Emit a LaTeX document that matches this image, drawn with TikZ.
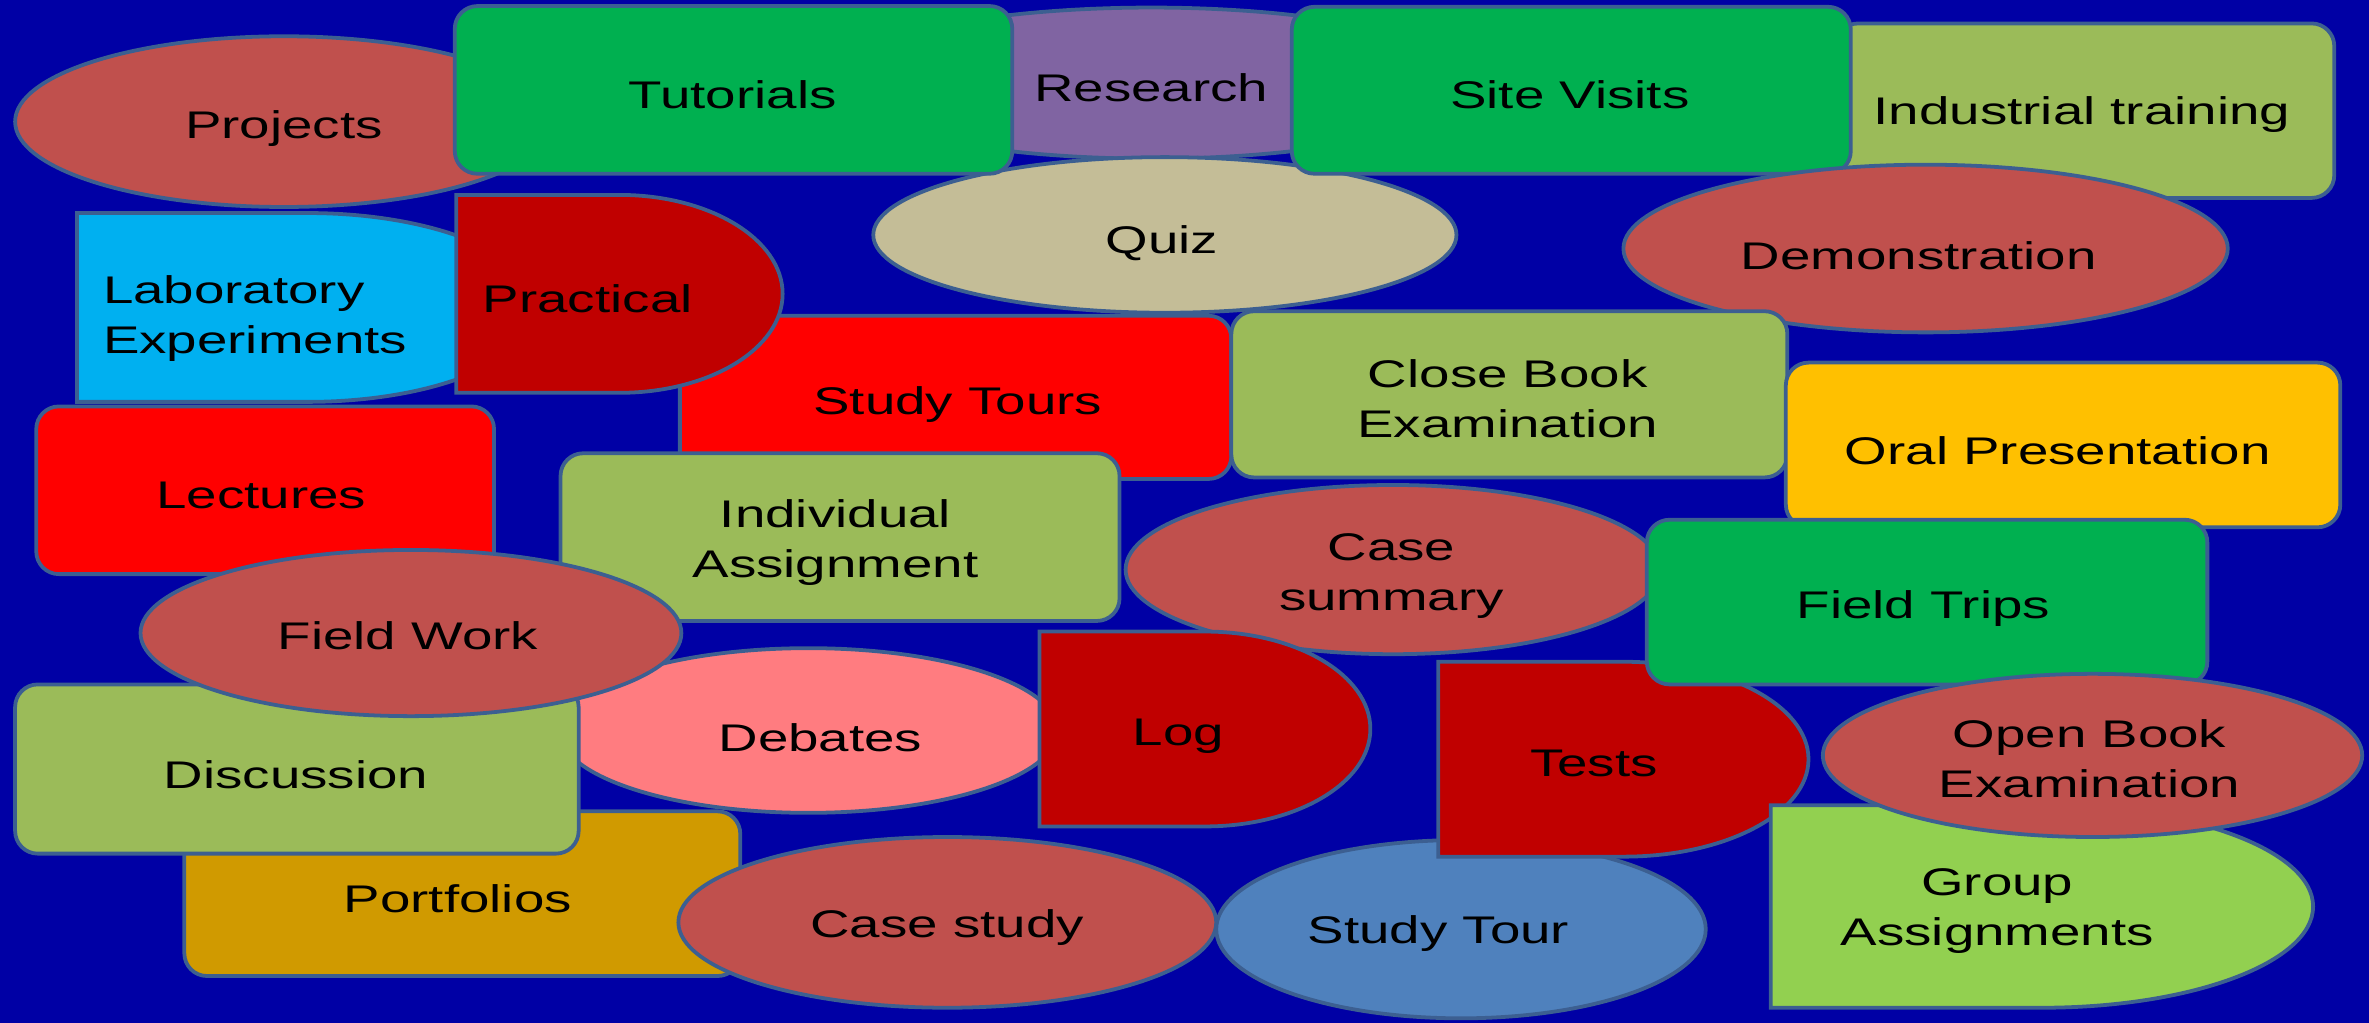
\documentclass[tikz,border=0pt]{standalone}
\usepackage{fontspec}
\newfontfamily\lblfont[FakeStretch=1.42]{Liberation Sans}
\definecolor{bg}{RGB}{0,0,165}
\definecolor{edge}{RGB}{60,95,145}
\definecolor{ered}{HTML}{C0504D}
\definecolor{epurple}{HTML}{8064A2}
\definecolor{etan}{HTML}{C4BD97}
\definecolor{eolive}{HTML}{9BBB59}
\definecolor{egreen}{HTML}{00B050}
\definecolor{elblue}{HTML}{00B0F0}
\definecolor{edred}{HTML}{C00000}
\definecolor{ebred}{HTML}{FF0000}
\definecolor{egold}{HTML}{FFC000}
\definecolor{edgold}{RGB}{208,154,0}
\definecolor{epink}{HTML}{FF7C80}
\definecolor{esteel}{HTML}{4F81BD}
\definecolor{elgreen}{HTML}{92D050}
\newcommand\Dshape[5]{%
 \pgfmathsetmacro\dxm{(#2+#4)/2}%
 \pgfmathsetmacro\drx{(#4-#2)/2}%
 \pgfmathsetmacro\dyc{(#3+#5)/2}%
 \pgfmathsetmacro\dry{(#5-#3)/2}%
 \path[shp,#1] (#2,#3) -- (\dxm,#3) .. controls ({\dxm+0.5523*\drx},#3) and (#4,{\dyc-0.5523*\dry}) .. (#4,\dyc) .. controls (#4,{\dyc+0.5523*\dry}) and ({\dxm+0.5523*\drx},#5) .. (\dxm,#5) -- (#2,#5) -- cycle;}
\begin{document}
\begin{tikzpicture}[x=1pt,y=-1pt,
  shp/.style={draw=edge,line width=2.5pt},
  rbox/.style={shp,rounded corners=15pt},
  lab/.style={font=\lblfont\fontsize{25.5}{33}\selectfont,text=black,align=center,inner sep=0pt}]
\useasboundingbox (0,0) rectangle (1568,677);
\fill[bg] (0,0) rectangle (1568,677);
% shapes, back to front
\path[shp,fill=ered] (188,80.5) ellipse [x radius=178,y radius=56.5];
\path[shp,fill=epurple] (762,55) ellipse [x radius=215,y radius=50];
\path[shp,fill=etan] (771,155.5) ellipse [x radius=193,y radius=51.5];
\path[rbox,fill=eolive] (1215,15.5) rectangle (1545,131);
\path[rbox,fill=egreen] (301,4) rectangle (670,115);
\path[rbox,fill=egreen] (855,4.5) rectangle (1225,115);
\path[shp,fill=ered] (1274.5,164.5) ellipse [x radius=200,y radius=55.5];
\Dshape{fill=elblue}{51}{141}{356}{266}
\path[rbox,fill=ebred] (450,209) rectangle (815,317);
\Dshape{fill=edred}{302}{129}{518}{260}
\path[rbox,fill=eolive] (815,206) rectangle (1183,316);
\path[rbox,fill=egold] (1182,240) rectangle (1549,349);
\path[rbox,fill=ebred] (24,269) rectangle (327,380);
\path[rbox,fill=eolive] (371,300) rectangle (741,411);
\path[shp,fill=ered] (922,377) ellipse [x radius=177,y radius=56];
\path[shp,fill=epink] (535,483.5) ellipse [x radius=165,y radius=54.5];
\Dshape{fill=edred}{688}{418}{907}{547}
\path[rbox,fill=edgold] (122,537) rectangle (490,646);
\path[rbox,fill=eolive] (10,453) rectangle (383,565);
\path[shp,fill=ered] (272,419) ellipse [x radius=179,y radius=55];
\path[shp,fill=esteel] (967,615) ellipse [x radius=162,y radius=59];
\Dshape{fill=edred}{952}{438}{1197}{567}
\path[shp,fill=ered] (627,610.5) ellipse [x radius=178,y radius=56.5];
\path[rbox,fill=egreen] (1090,344) rectangle (1461,453);
\Dshape{fill=elgreen}{1172}{533}{1531}{667}
\path[shp,fill=ered] (1385,500) ellipse [x radius=178.5,y radius=54];
% labels
\node[lab] (projects) at (188,85) {Projects};
\node[lab] (tutorials) at (485,63) {Tutorials};
\node[lab] (research) at (762,58) {Research};
\node[lab] (sitevisits) at (1039,63) {Site Visits};
\node[lab] (industrial) at (1378,76) {Industrial training};
\node[lab] (quiz) at (769,161) {Quiz};
\node[lab] (demo) at (1270,169) {Demonstration};
\node[lab,align=left,anchor=west] (labexp) at (68,211) {Laboratory\\Experiments};
\node[lab] (practical) at (389,198) {Practical};
\node[lab] (studytours) at (634,268) {Study Tours};
\node[lab] (closebook) at (998,264) {Close Book\\Examination};
\node[lab] (oral) at (1362,298) {Oral Presentation};
\node[lab] (lectures) at (173,328) {Lectures};
\node[lab] (individual) at (553,359) {Individual\\Assignment};
\node[lab] (casesum) at (921,381) {Case\\summary};
\node[lab] (fieldtrips) at (1273,403) {Field Trips};
\node[lab] (fieldwork) at (270,421) {Field Work};
\node[lab] (debates) at (543,488) {Debates};
\node[lab] (log) at (780,487) {Log};
\node[lab] (tests) at (1055,505) {Tests};
\node[lab] (openbook) at (1383,502) {Open Book\\Examination};
\node[lab] (discussion) at (196,513) {Discussion};
\node[lab] (portfolios) at (303,595) {Portfolios};
\node[lab] (casestudy) at (627,614) {Case study};
\node[lab] (studytour) at (952,618) {Study Tour};
\node[lab] (group) at (1322,603) {Group\\Assignments};
\end{tikzpicture}
\end{document}
